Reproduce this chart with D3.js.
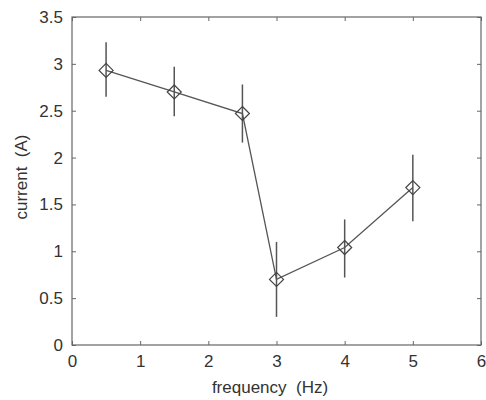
<!DOCTYPE html>
<html>
<head>
<meta charset="utf-8">
<script src="https://cdn.jsdelivr.net/npm/d3@7"></script>
<style>
  html, body { margin: 0; padding: 0; background: #fff; overflow: hidden; }
  svg { display: block; }
  svg text { font-family: "Liberation Sans", Arial, sans-serif; fill: #333; white-space: pre; }
</style>
</head>
<body>
<div id="chart"></div>
<script>
// Data
const freq = [0.5, 1.5, 2.5, 3, 4, 5];
const current = [2.93, 2.70, 2.47, 0.70, 1.04, 1.68];
const errLow = [2.65, 2.44, 2.16, 0.30, 0.72, 1.32];
const errHigh = [3.23, 2.97, 2.78, 1.10, 1.34, 2.03];
const xTicks = [0, 1, 2, 3, 4, 5, 6];
const yTicks = [0, 0.5, 1, 1.5, 2, 2.5, 3, 3.5];

const width = 486;
const height = 400;
const margin = { top: 17, right: 5, bottom: 55, left: 72 };
const innerWidth = 409;
const innerHeight = height - margin.top - margin.bottom;

const svg = d3.select("#chart")
  .append("svg")
  .attr("width", width)
  .attr("height", height);

const g = svg.append("g")
  .attr("transform", `translate(${margin.left},${margin.top})`);

const x = d3.scaleLinear().domain([0, 6]).range([0, innerWidth]);
const y = d3.scaleLinear().domain([0, 3.5]).range([innerHeight, 0]);

const axisColor = "#666";

// Frame box
g.append("rect")
  .attr("x", 0)
  .attr("y", 0)
  .attr("width", innerWidth)
  .attr("height", innerHeight)
  .attr("fill", "none")
  .attr("stroke", axisColor)
  .attr("stroke-width", 1.2);

// Bottom axis (ticks inward)
const xAxis = g.append("g")
  .attr("transform", `translate(0,${innerHeight})`)
  .call(d3.axisBottom(x).tickValues(xTicks).tickSize(-4).tickPadding(10).tickFormat(d3.format("d")));
xAxis.select(".domain").remove();
xAxis.selectAll("line").attr("stroke", axisColor);
xAxis.selectAll("text").attr("font-size", 17).attr("fill", "#333");

// Top ticks
const xTop = g.append("g")
  .call(d3.axisTop(x).tickValues(xTicks).tickSize(-4));
xTop.select(".domain").remove();
xTop.selectAll("text").remove();
xTop.selectAll("line").attr("stroke", axisColor);

// Left axis
const yAxis = g.append("g")
  .call(d3.axisLeft(y).tickValues(yTicks).tickSize(-4).tickPadding(9).tickFormat(d => d));
yAxis.select(".domain").remove();
yAxis.selectAll("line").attr("stroke", axisColor);
yAxis.selectAll("text").attr("font-size", 17).attr("fill", "#333");

// Right ticks
const yRight = g.append("g")
  .attr("transform", `translate(${innerWidth},0)`)
  .call(d3.axisRight(y).tickValues(yTicks).tickSize(-4));
yRight.select(".domain").remove();
yRight.selectAll("text").remove();
yRight.selectAll("line").attr("stroke", axisColor);

const data = freq.map((f, i) => ({ f: f, c: current[i], lo: errLow[i], hi: errHigh[i] }));

// Error bars
g.selectAll(".err")
  .data(data)
  .enter()
  .append("line")
  .attr("class", "err")
  .attr("x1", d => x(d.f))
  .attr("x2", d => x(d.f))
  .attr("y1", d => y(d.lo))
  .attr("y2", d => y(d.hi))
  .attr("stroke", "#555")
  .attr("stroke-width", 1.5);

// Line
g.append("path")
  .datum(data)
  .attr("fill", "none")
  .attr("stroke", "#555")
  .attr("stroke-width", 1.3)
  .attr("d", d3.line().x(d => x(d.f)).y(d => y(d.c)));

// Diamond markers
g.selectAll(".marker")
  .data(data)
  .enter()
  .append("path")
  .attr("class", "marker")
  .attr("transform", d => `translate(${x(d.f)},${y(d.c)})`)
  .attr("d", "M0,-7L7,0L0,7L-7,0Z")
  .attr("fill", "none")
  .attr("stroke", "#444")
  .attr("stroke-width", 1.2);

// Axis labels
svg.append("text")
  .attr("x", 270)
  .attr("y", 393)
  .attr("text-anchor", "middle")
  .attr("font-size", 17)
  .text("frequency  (Hz)");

svg.append("text")
  .attr("transform", "translate(27,177) rotate(-90)")
  .attr("text-anchor", "middle")
  .attr("font-size", 17)
  .text("current  (A)");
</script>
</body>
</html>
